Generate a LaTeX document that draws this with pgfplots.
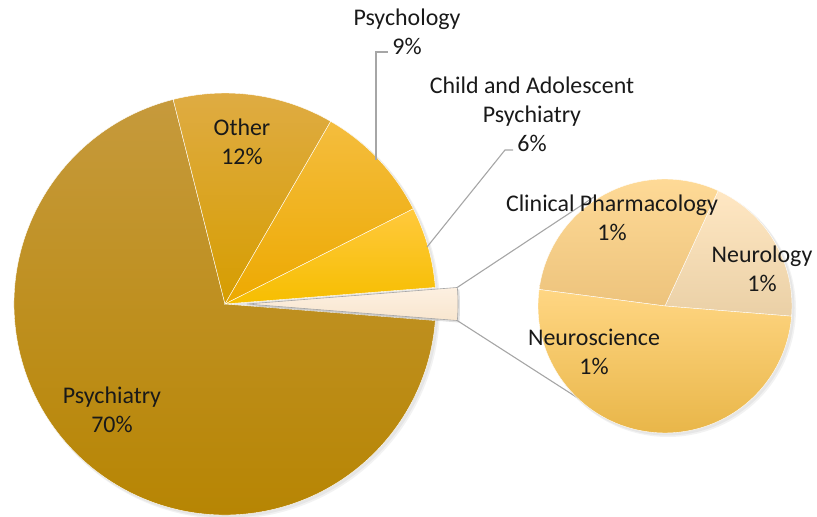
\documentclass[border=0pt]{standalone}
\usepackage{pgfplots}
\pgfplotsset{compat=1.18}
\usepackage{fontspec}
\setmainfont{Carlito}
\definecolor{psyT}{HTML}{C69A3C}
\definecolor{psyB}{HTML}{B68400}
\definecolor{othT}{HTML}{DFAC45}
\definecolor{othB}{HTML}{D69D00}
\definecolor{pslT}{HTML}{F4BD3E}
\definecolor{pslB}{HTML}{EDA900}
\definecolor{chdT}{HTML}{FFC93D}
\definecolor{chdB}{HTML}{F6BE00}
\definecolor{smT}{HTML}{FDF0E1}
\definecolor{smB}{HTML}{F8E6CF}
\definecolor{clnT}{HTML}{FFDB98}
\definecolor{clnB}{HTML}{EDC37C}
\definecolor{nrlT}{HTML}{FFE7C3}
\definecolor{nrlB}{HTML}{EAD0A6}
\definecolor{nscT}{HTML}{FFD683}
\definecolor{nscB}{HTML}{E8B547}
\definecolor{lead}{HTML}{A6A6A6}
% ---- data (percent of total) ----
\def\vPsychiatry{69.8}
\def\vOther{12.3}
\def\vPsychology{9.2}
\def\vChild{6.2}
\def\vNeurosci{1.27}
\def\vClin{0.745}
\def\vNeurology{0.485}
% ---- angles ----
\pgfmathsetmacro\vSmall{\vNeurosci+\vClin+\vNeurology}
\pgfmathsetmacro\aA{1.8*\vSmall}
\pgfmathsetmacro\aZ{-\aA}
\pgfmathsetmacro\aB{\aA+3.6*\vChild}
\pgfmathsetmacro\aC{\aB+3.6*\vPsychology}
\pgfmathsetmacro\aD{\aC+3.6*\vOther}
\pgfmathsetmacro\aE{\aD+3.6*\vPsychiatry}
\pgfmathsetmacro\bA{-4.6}
\pgfmathsetmacro\bB{\bA+360*\vNeurology/\vSmall}
\pgfmathsetmacro\bC{\bB+360*\vClin/\vSmall}
\pgfmathsetmacro\bD{\bC+360*\vNeurosci/\vSmall}
\newcommand\lab{\fontsize{24}{29}\selectfont}
\begin{document}
\begin{tikzpicture}
\begin{axis}[width=817bp,height=517bp,scale only axis,
  xmin=0,xmax=817,ymin=0,ymax=517,hide axis,clip=false]
\coordinate (SW) at (axis cs:0,0);
\coordinate (NE) at (axis cs:817,517);
% shadows
\fill[black,opacity=0.05] (axis cs:228,210) circle[radius=212bp];
\fill[black,opacity=0.05] (axis cs:227,211) circle[radius=211.5bp];
\fill[black,opacity=0.05] (axis cs:668,208) circle[radius=128bp];
\fill[black,opacity=0.05] (axis cs:667,209) circle[radius=127.5bp];
% main pie
\shade[top color=psyT,bottom color=psyB,draw=white,line width=0.4bp]
  (axis cs:225,213) -- ++(\aD:211bp) arc[start angle=\aD,end angle=\aE,radius=211bp] -- cycle;
\shade[top color=othT,bottom color=othB,draw=white,line width=0.4bp]
  (axis cs:225,213) -- ++(\aC:211bp) arc[start angle=\aC,end angle=\aD,radius=211bp] -- cycle;
\shade[top color=pslT,bottom color=pslB,draw=white,line width=0.4bp]
  (axis cs:225,213) -- ++(\aB:211bp) arc[start angle=\aB,end angle=\aC,radius=211bp] -- cycle;
\shade[top color=chdT,bottom color=chdB,draw=white,line width=0.4bp]
  (axis cs:225,213) -- ++(\aA:211bp) arc[start angle=\aA,end angle=\aB,radius=211bp] -- cycle;
% exploded wedge
\fill[black,opacity=0.12] (axis cs:249,211) -- ++(\aZ:211bp) arc[start angle=\aZ,end angle=\aA,radius=211bp] -- cycle;
\shade[top color=smT,bottom color=smB,draw=black!35,line width=0.6bp]
  (axis cs:247,213) -- ++(\aZ:211bp) arc[start angle=\aZ,end angle=\aA,radius=211bp] -- cycle;
% connector lines
\draw[lead,line width=1.1bp] (axis cs:457.3,229.6) -- (axis cs:594,320);
\draw[lead,line width=1.1bp] (axis cs:457.3,196.4) -- (axis cs:598,106);
% secondary pie
\shade[top color=nrlT,bottom color=nrlB,draw=white,line width=0.4bp]
  (axis cs:665,211) -- ++(\bA:127bp) arc[start angle=\bA,end angle=\bB,radius=127bp] -- cycle;
\shade[top color=clnT,bottom color=clnB,draw=white,line width=0.4bp]
  (axis cs:665,211) -- ++(\bB:127bp) arc[start angle=\bB,end angle=\bC,radius=127bp] -- cycle;
\shade[top color=nscT,bottom color=nscB,draw=white,line width=0.4bp]
  (axis cs:665,211) -- ++(\bC:127bp) arc[start angle=\bC,end angle=\bD,radius=127bp] -- cycle;
% leader lines
\draw[lead,line width=1.1bp] (axis cs:376,357) -- (axis cs:376,465) -- (axis cs:388,465);
\draw[lead,line width=1.1bp] (axis cs:427,270) -- (axis cs:505,367) -- (axis cs:513,367);
% labels
\node[font=\lab,align=center,text=black!90] at (axis cs:407,485.5) {Psychology\\9\%};
\node[font=\lab,align=center,text=black!90] at (axis cs:532,402.5) {Child and Adolescent\\Psychiatry\\6\%};
\node[font=\lab,align=center,text=black!90] at (axis cs:242,375) {Other\\12\%};
\node[font=\lab,align=center,text=black!90] at (axis cs:112,107.5) {Psychiatry\\70\%};
\node[font=\lab,align=center,text=black!90] at (axis cs:612,299) {Clinical Pharmacology\\1\%};
\node[font=\lab,align=center,text=black!90] at (axis cs:762,248) {Neurology\\1\%};
\node[font=\lab,align=center,text=black!90] at (axis cs:594,165.5) {Neuroscience\\1\%};
\end{axis}
\pgfresetboundingbox
\useasboundingbox (SW) rectangle (NE);
\end{tikzpicture}
\end{document}
